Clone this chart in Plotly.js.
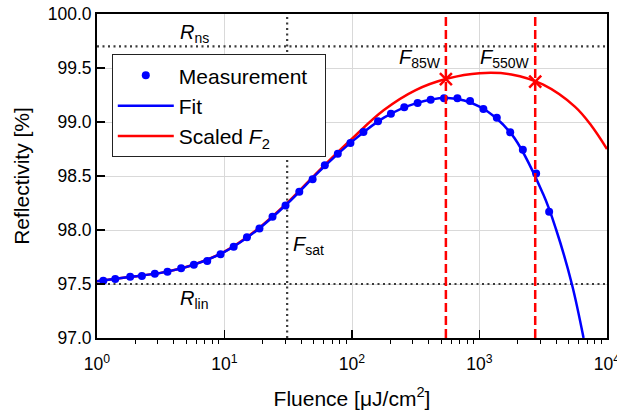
<!DOCTYPE html>
<html><head><meta charset="utf-8">
<script src="https://cdn.plot.ly/plotly-3.0.1.min.js"></script>
<style>html,body{margin:0;padding:0;background:#fff}#chart{width:617px;height:412px}</style>
</head><body><div id="chart"></div>
<script>
// ---- data ----
const measFluence = [1.12, 1.39, 1.82, 2.25, 2.84, 3.57, 4.57, 5.75, 7.32, 9.31, 11.8, 15.0, 18.8, 23.8, 30.1, 38.6, 49.1, 61.2, 77.4, 97.2, 123, 160, 202, 257, 327, 414, 527, 671, 843, 1073, 1367, 1741, 2187, 2781, 3517];
const measReflect = [97.53, 97.546, 97.568, 97.574, 97.596, 97.614, 97.645, 97.679, 97.713, 97.775, 97.846, 97.932, 98.015, 98.123, 98.228, 98.355, 98.469, 98.599, 98.707, 98.806, 98.907, 99.006, 99.077, 99.136, 99.176, 99.207, 99.219, 99.219, 99.194, 99.120, 99.040, 98.904, 98.744, 98.522, 98.170];

const fitFluence = [1, 1.78, 3.16, 5.62, 10, 17.8, 31.6, 56.2, 100, 178, 316, 562, 1000, 1778, 3162, 4000, 5300, 6550];
const fitReflect = [97.525, 97.565, 97.603, 97.675, 97.797, 97.994, 98.252, 98.55, 98.818, 99.04, 99.172, 99.222, 99.143, 98.89, 98.33, 98.0, 97.5, 97.0];

const f2Fluence = [1, 1.78, 3.16, 5.62, 10, 17.8, 31.6, 56.2, 100, 178, 316, 562, 1000, 1778, 3162, 5623, 7499, 10000];
const f2Reflect = [97.525, 97.565, 97.603, 97.676, 97.80, 98.0, 98.26, 98.56, 98.845, 99.11, 99.295, 99.402, 99.452, 99.44, 99.345, 99.14, 98.97, 98.75];

const R_ns = 99.7;
const R_lin = 97.5;
const F_sat = 31;
const markFluence = [545, 2735];
const markReflect = [99.398, 99.373];
const markLabels = ['<i>F</i><sub>85W</sub>', '<i>F</i><sub>550W</sub>'];

const xRange = [1, 10000];
const yRange = [97.0, 100.0];
const xTickVals = [1, 10, 100, 1000, 10000];
const xTickText = ['10<sup>0</sup>', '10<sup>1</sup>', '10<sup>2</sup>', '10<sup>3</sup>', '10<sup>4</sup>'];
const yTickVals = [97.0, 97.5, 98.0, 98.5, 99.0, 99.5, 100.0];
const yTickText = ['97.0', '97.5', '98.0', '98.5', '99.0', '99.5', '100.0'];

// minor tick positions: 2..9 within each decade
const xMinorVals = [];
for (let i = 0; i < xTickVals.length - 1; i++) for (let k = 2; k <= 9; k++) xMinorVals.push(xTickVals[i] * k);

const FONT = 'Liberation Sans, Arial, sans-serif';
const dotLine = {color: '#3a3a3a', width: 2.2, dash: '2px,3.5px'};

const traces = [
  {x: xRange, y: [R_ns, R_ns], mode: 'lines', line: dotLine, showlegend: false, hoverinfo: 'skip'},
  {x: xRange, y: [R_lin, R_lin], mode: 'lines', line: dotLine, showlegend: false, hoverinfo: 'skip'},
  {x: [F_sat, F_sat], y: yRange, mode: 'lines', line: dotLine, showlegend: false, hoverinfo: 'skip'},
  {x: f2Fluence, y: f2Reflect, mode: 'lines', name: 'Scaled <i>F</i><sub>2</sub>', legendrank: 3,
   line: {color: '#ff0000', width: 2.5, shape: 'spline', smoothing: 1}},
  {x: fitFluence, y: fitReflect, mode: 'lines', name: 'Fit', legendrank: 2,
   line: {color: '#0000ff', width: 2.5, shape: 'spline', smoothing: 1}},
  {x: measFluence, y: measReflect, mode: 'markers', name: 'Measurement&nbsp;&nbsp;', legendrank: 1,
   marker: {color: '#0000ff', size: 8}},
];
markFluence.forEach(f => traces.push({x: [f, f], y: yRange, mode: 'lines', showlegend: false, hoverinfo: 'skip',
  line: {color: '#ff0000', width: 2.5, dash: '9px,4px'}}));
traces.push({x: markFluence, y: markReflect, mode: 'markers', showlegend: false,
  marker: {symbol: 'x-thin-open', size: 12, color: '#ff0000', line: {color: '#ff0000', width: 2.5}}});

const annFont = {family: FONT, size: 20, color: '#000'};
const annotations = [
  {xref: 'paper', yref: 'y', x: 0.159, y: 99.815, xanchor: 'left', yanchor: 'middle', text: '<i>R</i><sub>ns</sub>', showarrow: false, font: annFont},
  {xref: 'paper', yref: 'y', x: 0.159, y: 97.352, xanchor: 'left', yanchor: 'middle', text: '<i>R</i><sub>lin</sub>', showarrow: false, font: annFont},
  {xref: 'x', yref: 'y', x: Math.log10(F_sat), xshift: 4, y: 97.852, xanchor: 'left', yanchor: 'middle', text: '<i>F</i><sub>sat</sub>', showarrow: false, font: annFont},
];
markFluence.forEach((f, i) => annotations.push({xref: 'x', yref: 'y', x: Math.log10(f), xshift: -3, y: 99.585,
  xanchor: 'right', yanchor: 'middle', text: markLabels[i], showarrow: false, font: annFont}));

const layout = {
  width: 617, height: 412,
  margin: {l: 97, r: 10, t: 14, b: 74},
  paper_bgcolor: '#fff', plot_bgcolor: '#fff',
  font: {family: FONT, size: 17.5, color: '#000'},
  showlegend: true,
  legend: {x: 0.029, y: 0.876, xanchor: 'left', yanchor: 'top', bgcolor: '#fff', bordercolor: '#222', borderwidth: 1,
    itemwidth: 56, font: {family: FONT, size: 21, color: '#000'}, traceorder: 'normal'},
  xaxis: {type: 'log', range: [Math.log10(xRange[0]), Math.log10(xRange[1])], tickmode: 'array', tickvals: xTickVals, ticktext: xTickText,
    ticks: 'inside', ticklen: 8, tickwidth: 1.5, tickcolor: '#000', ticklabelstandoff: 9, ticklabeloverflow: 'allow',
    minor: {tickmode: 'array', tickvals: xMinorVals, ticks: 'outside', ticklen: 4, tickwidth: 1, tickcolor: '#000', showgrid: false},
    showgrid: true, gridcolor: '#d9d9d9', gridwidth: 1, zeroline: false,
    showline: true, mirror: true, linecolor: '#000', linewidth: 2,
    tickfont: {family: FONT, size: 17.5, color: '#000'},
    title: {text: 'Fluence [μJ/cm<sup>2</sup>]', standoff: 18, font: {family: FONT, size: 21, color: '#000'}}},
  yaxis: {range: yRange, tickmode: 'array', tickvals: yTickVals, ticktext: yTickText,
    ticks: 'inside', ticklen: 8, tickwidth: 1.5, tickcolor: '#000',
    showgrid: true, gridcolor: '#d9d9d9', gridwidth: 1, zeroline: false,
    showline: true, mirror: true, linecolor: '#000', linewidth: 2,
    tickfont: {family: FONT, size: 17.5, color: '#000'},
    title: {text: 'Reflectivity [%]', standoff: 12, font: {family: FONT, size: 21, color: '#000'}}},
  annotations: annotations,
};

Plotly.newPlot('chart', traces, layout, {displayModeBar: false, staticPlot: true});
</script>
</body></html>
